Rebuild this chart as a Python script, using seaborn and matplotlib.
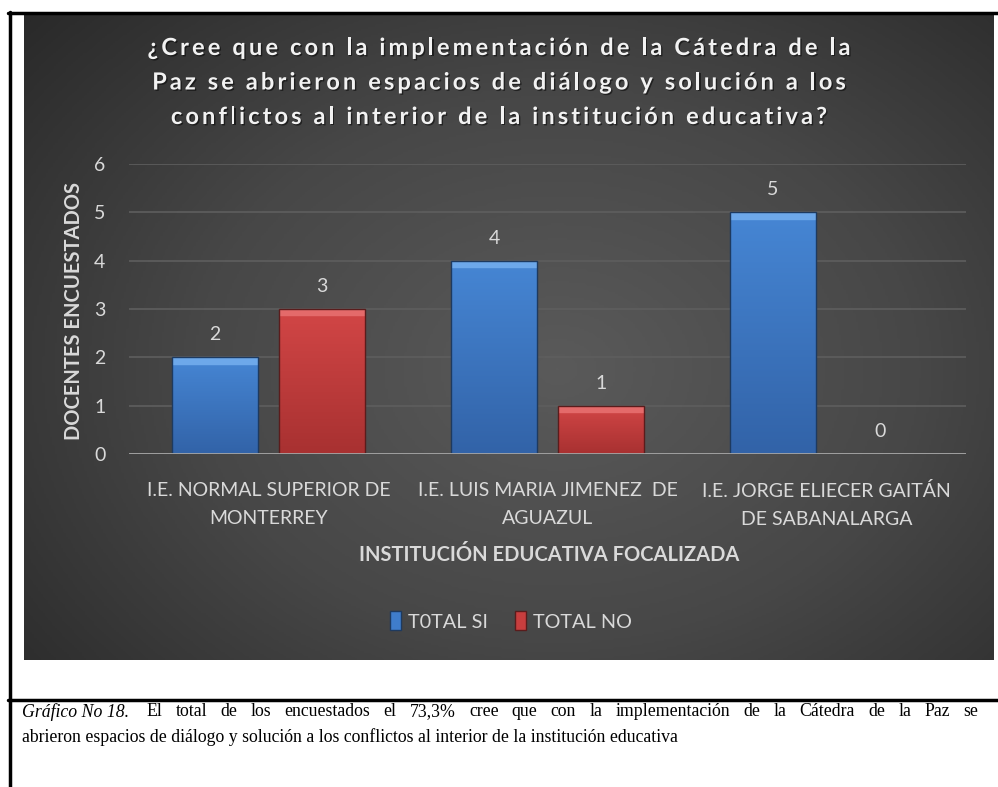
import numpy as np
import pandas as pd
import matplotlib
matplotlib.use("Agg")
import matplotlib.pyplot as plt
import seaborn as sns
from matplotlib.lines import Line2D
from matplotlib.patches import Patch, Rectangle
from matplotlib.colors import LinearSegmentedColormap
from matplotlib.font_manager import FontProperties
import matplotlib.patheffects as pe

# ---- data ----
instituciones = ["I.E. NORMAL SUPERIOR DE\nMONTERREY",
                 "I.E. LUIS MARIA JIMENEZ  DE\nAGUAZUL",
                 "I.E. JORGE ELIECER GAITÁN\nDE SABANALARGA"]
series = ["T0TAL SI", "TOTAL NO"]
total_si = [2, 4, 5]
total_no = [3, 1, 0]
yticks = [0, 1, 2, 3, 4, 5, 6]
title_lines = ["¿Cree que con la implementación de la Cátedra de la",
               "Paz se abrieron espacios de diálogo y solución a los",
               "conflictos al interior de la institución educativa?"]
ylabel = "DOCENTES ENCUESTADOS"
xlabel = "INSTITUCIÓN EDUCATIVA FOCALIZADA"
caption_italic = "Gráfico No 18."
caption_line1 = "El total de los encuestados el 73,3% cree que con la implementación de la Cátedra de la Paz se"
caption_line2 = "abrieron espacios de diálogo y solución a los conflictos al interior de la institución educativa"

df = pd.DataFrame({
    "inst": instituciones * 2,
    "serie": [series[0]] * 3 + [series[1]] * 3,
    "valor": total_si + total_no,
})

W, H = 998, 787
BLUE = "#3F7DCB"
RED = "#C83E3E"
TXT = "#D9D9D9"

sns.set_theme(style="white")
plt.rcParams["font.family"] = ["Lato", "DejaVu Sans"]

fig = plt.figure(figsize=(W / 100, H / 100), dpi=100, facecolor="white")
renderer = fig.canvas.get_renderer()

def fx(px):
    return px / W

def fy(py):
    return 1 - py / H

def text_w(s, prop):
    # advance width in pixels, measured between bar glyphs so spaces count
    w1, _, _ = renderer.get_text_width_height_descent("|" + s + "|", prop, ismath=False)
    w0, _, _ = renderer.get_text_width_height_descent("||", prop, ismath=False)
    return w1 - w0

# ---- background panel with radial gradient ----
px0, px1, py0, py1 = 24, 994, 14, 660
bg = fig.add_axes([fx(px0), fy(py1), fx(px1 - px0), (py1 - py0) / H], zorder=0)
gx, gy = np.meshgrid(np.linspace(0, 1, 400), np.linspace(0, 1, 300))
r = np.sqrt(((gx - 0.55) / 0.75) ** 2 + ((gy - 0.55) / 0.85) ** 2)
r = np.clip(r, 0, 1)
cmap_bg = LinearSegmentedColormap.from_list("bg", ["#5A5A5A", "#474747", "#282828"])
bg.imshow(r, cmap=cmap_bg, aspect="auto", extent=[0, 1, 0, 1], vmin=0, vmax=1)
bg.set_axis_off()

# ---- border lines ----
fig.add_artist(Line2D([fx(8), 1.0], [fy(13), fy(13)], color="black", lw=2.5))
fig.add_artist(Line2D([fx(10), fx(10)], [fy(12), 0.0], color="black", lw=2.5))
fig.add_artist(Line2D([fx(8), 1.0], [fy(700), fy(700)], color="black", lw=2.5))

# ---- main axes ----
ax = fig.add_axes([fx(129), fy(454), fx(966 - 129), 290 / H], zorder=2)
ax.set_facecolor("none")
sns.barplot(data=df, x="inst", y="valor", hue="serie", palette=[BLUE, RED],
            width=0.767, gap=0.197, saturation=1, legend=False, ax=ax, zorder=3)

ax.set_ylim(0, 6)
ax.set_xlim(-0.5, 2.5)
ax.set_yticks(yticks)
ax.yaxis.grid(True, color="#5E5E5E", lw=1.2, zorder=0)
ax.set_axisbelow(True)
for s in ["top", "right", "left", "bottom"]:
    ax.spines[s].set_visible(False)
ax.axhline(0, color="#A6A6A6", lw=2, zorder=4)
ax.tick_params(axis="both", length=0, colors=TXT, labelsize=14)
ax.tick_params(axis="y", pad=17)
ax.tick_params(axis="x", pad=20)
for lab in ax.get_xticklabels():
    lab.set_fontsize(14)
    lab.set_linespacing(1.78)

# bar gradient styling (bevelled look)
styles = {0: ("#6DA8EA", "#4686D4", "#3263A8", "#1E3A5F"),
          1: ("#E46A6A", "#D24646", "#A83131", "#5A1C1C")}
for ci, cont in enumerate(ax.containers):
    top, c1, c2, ec = styles[ci]
    for p in cont.patches:
        h = p.get_height()
        p.set_edgecolor(ec)
        p.set_linewidth(1.0)
        if h <= 0:
            p.set_facecolor("none")
            p.set_edgecolor("none")
            continue
        x0, w = p.get_x(), p.get_width()
        cm = LinearSegmentedColormap.from_list("g%d" % ci, [c1, c2])
        grad = np.linspace(0, 1, 100).reshape(-1, 1)
        im = ax.imshow(grad, cmap=cm, aspect="auto", extent=[x0, x0 + w, 0, h],
                       origin="upper", zorder=3.5)
        im.set_clip_path(p)
        bev = Rectangle((x0, h - 0.13), w, 0.13, color=top, zorder=3.6)
        ax.add_patch(bev)
        bev.set_clip_path(p)
        p.set_zorder(3.7)
        p.set_facecolor("none")
    ax.bar_label(cont, labels=[f"{v:g}" for v in cont.datavalues],
                 padding=10, color=TXT, fontsize=14)
ax.set_xlim(-0.5, 2.5)
ax.set_ylim(0, 6)
ax.set_xlabel("")
ax.set_ylabel("")

fig.text(fx(74), fy(311), ylabel, rotation=90, ha="center", va="center",
         color=TXT, fontsize=14.5, fontweight="bold")
fig.text(fx(549), fy(555), xlabel, ha="center", va="center",
         color=TXT, fontsize=14.5, fontweight="bold")

# ---- title (letter-spaced) ----
tprop = FontProperties(family=["Lato", "DejaVu Sans"], weight="bold", size=17)
line0 = title_lines[0]
spacing = (703 - text_w(line0, tprop)) / (len(line0) - 1)
for i, line in enumerate(title_lines):
    total = text_w(line, tprop) + spacing * (len(line) - 1)
    start = 499 - total / 2
    for k, ch in enumerate(line):
        if ch == " ":
            continue
        pos = text_w(line[:k], tprop)
        adv = text_w(line[:k + 1], tprop) - pos
        xc = start + pos + adv / 2 + spacing * k
        t = fig.text(fx(xc), fy(48 + 34.5 * i + 7), ch, ha="center", va="baseline",
                     color="#F2F2F2", fontproperties=tprop, zorder=5)
        t.set_path_effects([pe.SimplePatchShadow(offset=(1, -1), shadow_rgbFace="black",
                                                 alpha=0.5), pe.Normal()])

# ---- legend ----
handles = [Patch(facecolor=BLUE, edgecolor="#1E3A5F"), Patch(facecolor=RED, edgecolor="#5A1C1C")]
leg = fig.legend(handles, series, loc="center", bbox_to_anchor=(fx(511), fy(621)),
                 ncol=2, frameon=False, handlelength=0.55, handleheight=1.1,
                 handletextpad=0.35, columnspacing=1.4, fontsize=14.3)
for t in leg.get_texts():
    t.set_color(TXT)

# ---- caption (justified first line) ----
serif = ["Liberation Serif", "DejaVu Serif"]
cs = 12.8
p_it = FontProperties(family=serif, style="italic", size=cs)
p_rm = FontProperties(family=serif, size=cs)
left, right = 22, 978
words = [(caption_italic, p_it)] + [(w_, p_rm) for w_ in caption_line1.split(" ")]
widths = [text_w(w_, p) for w_, p in words]
normal_space = text_w(" ", p_rm)
gaps = [2 * normal_space] + [normal_space] * (len(words) - 2)
extra = (right - left - sum(widths) - sum(gaps)) / len(gaps)
x = left
for k, ((w_, p), wd) in enumerate(zip(words, widths)):
    fig.text(fx(x), fy(712), w_, ha="left", va="center", fontproperties=p, color="black")
    if k < len(gaps):
        x += wd + gaps[k] + extra
fig.text(fx(left), fy(737), caption_line2, ha="left", va="center",
         fontproperties=p_rm, color="black")

fig.savefig("out.png", dpi=100, facecolor="white")
